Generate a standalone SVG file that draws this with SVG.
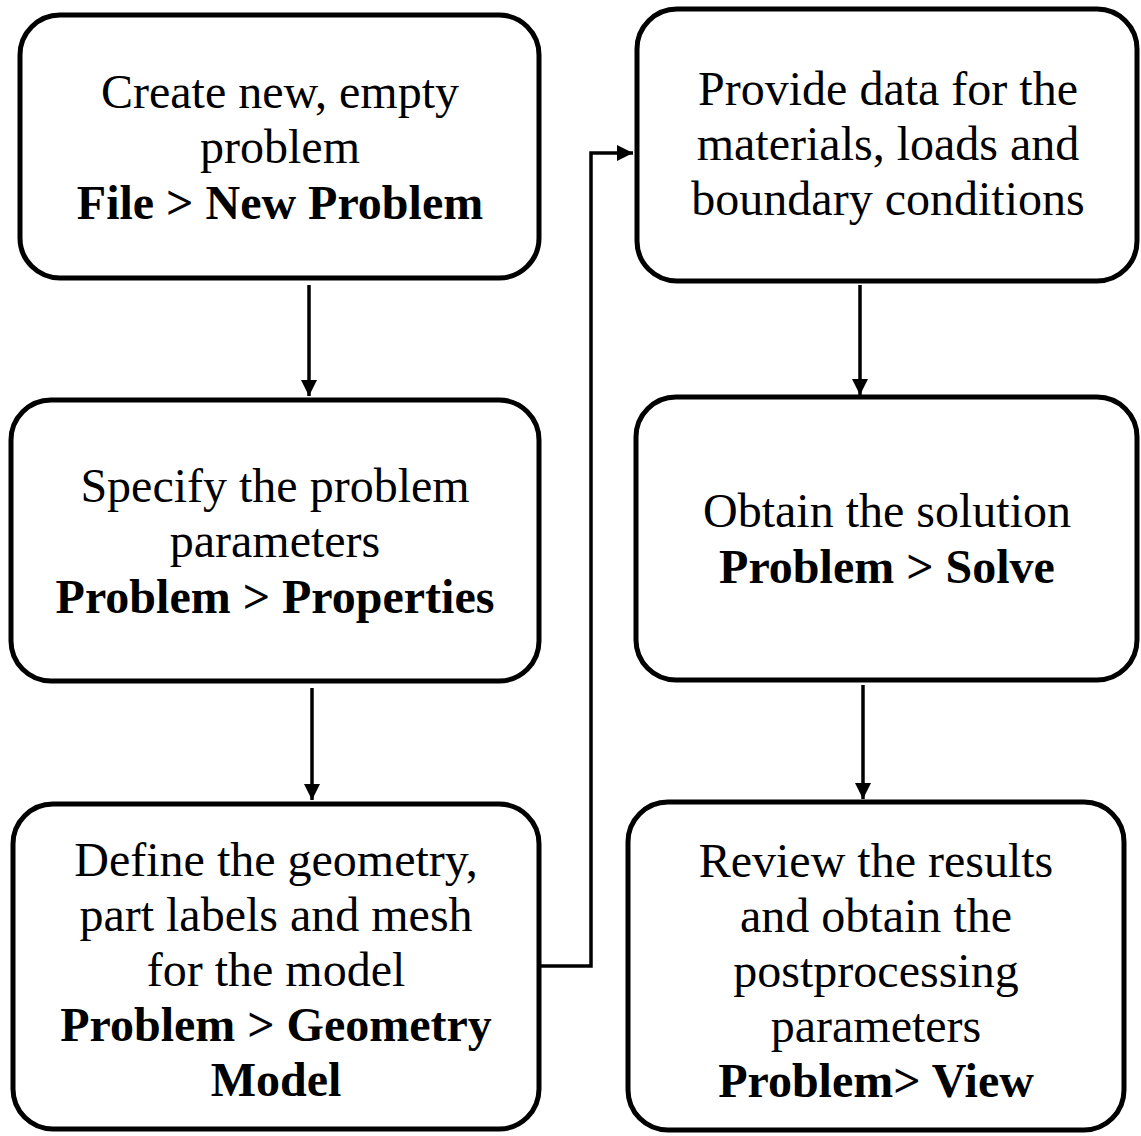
<svg xmlns="http://www.w3.org/2000/svg" width="1141" height="1136" viewBox="0 0 1141 1136">
<defs>
<style>
.box{fill:#fff;stroke:#000;stroke-width:5}
.t{font-family:"Liberation Serif","Times New Roman",serif;font-size:48px;text-anchor:middle;fill:#000}
.b{font-weight:bold}
.c{fill:none;stroke:#000;stroke-width:3.5}
</style>
<marker id="ah" markerUnits="userSpaceOnUse" markerWidth="16" markerHeight="16" refX="16" refY="8" orient="auto">
<path d="M0,0 L16,8 L0,16 z" fill="#000"/>
</marker>
</defs>
<rect width="1141" height="1136" fill="#fff"/>
<g id="connectors">
<path class="c" d="M309,285 V396" marker-end="url(#ah)"/>
<path class="c" d="M312,688 V800" marker-end="url(#ah)"/>
<path class="c" d="M860,285 V395" marker-end="url(#ah)"/>
<path class="c" d="M863,685 V799" marker-end="url(#ah)"/>
<path class="c" d="M539,966 H591 V153 H633" marker-end="url(#ah)"/>
</g>
<g id="n1">
<rect class="box" x="20" y="15" width="519" height="263" rx="40"/>
<text class="t" x="280" y="108">Create new, empty</text>
<text class="t" x="280" y="163">problem</text>
<text class="t b" x="280" y="219">File &gt; New Problem</text>
</g>
<g id="n2">
<rect class="box" x="11" y="400" width="528" height="281" rx="40"/>
<text class="t" x="275" y="502">Specify the problem</text>
<text class="t" x="275" y="557">parameters</text>
<text class="t b" x="275" y="613">Problem &gt; Properties</text>
</g>
<g id="n3">
<rect class="box" x="13" y="804" width="526" height="325" rx="40"/>
<text class="t" x="276" y="876">Define the geometry,</text>
<text class="t" x="276" y="931">part labels and mesh</text>
<text class="t" x="276" y="986">for the model</text>
<text class="t b" x="276" y="1041">Problem &gt; Geometry</text>
<text class="t b" x="276" y="1096">Model</text>
</g>
<g id="n4">
<rect class="box" x="637" y="9" width="500" height="272" rx="40"/>
<text class="t" x="888" y="105">Provide data for the</text>
<text class="t" x="888" y="160">materials, loads and</text>
<text class="t" x="888" y="215">boundary conditions</text>
</g>
<g id="n5">
<rect class="box" x="636" y="397" width="501" height="283" rx="40"/>
<text class="t" x="887" y="527">Obtain the solution</text>
<text class="t b" x="887" y="583">Problem &gt; Solve</text>
</g>
<g id="n6">
<rect class="box" x="628" y="802" width="496" height="328" rx="40"/>
<text class="t" x="876" y="877">Review the results</text>
<text class="t" x="876" y="932">and obtain the</text>
<text class="t" x="876" y="987">postprocessing</text>
<text class="t" x="876" y="1042">parameters</text>
<text class="t b" x="876" y="1097">Problem&gt; View</text>
</g>
</svg>
